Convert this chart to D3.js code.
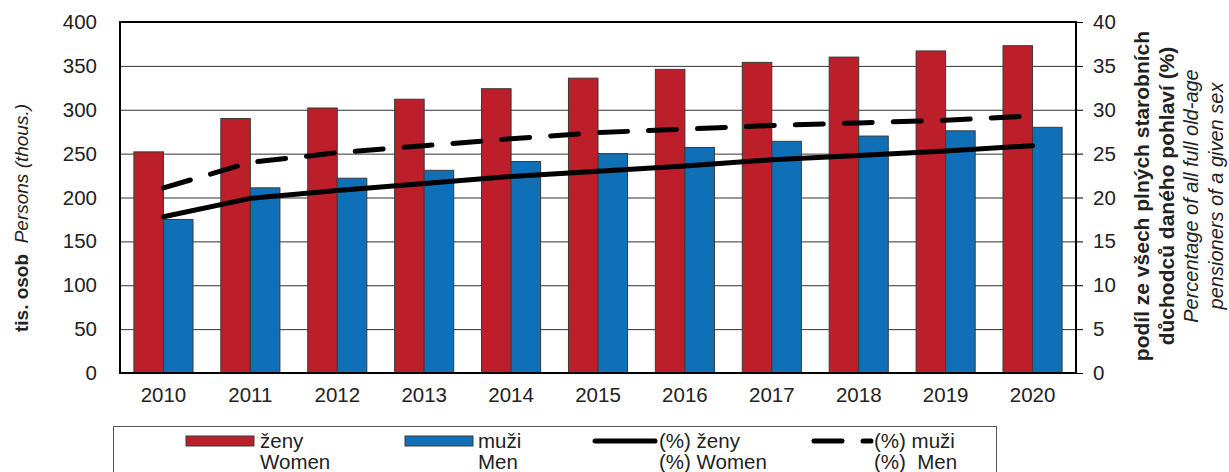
<!DOCTYPE html>
<html><head><meta charset="utf-8">
<script src="https://cdn.jsdelivr.net/npm/d3@7"></script>
<style>
body{margin:0;background:#fff;}
svg{display:block;font-family:"Liberation Sans",Arial,sans-serif;}
</style></head>
<body><svg id="c" width="1229" height="472"></svg>
<script>
const years = ["2010","2011","2012","2013","2014","2015","2016","2017","2018","2019","2020"];
const women = [252, 290, 302, 312, 324, 336, 346, 354, 360, 367, 373];
const men = [175, 211, 222, 231, 241, 250, 257, 264, 270, 276, 280];
const womenPct = [17.8, 19.9, 20.8, 21.6, 22.4, 23.0, 23.6, 24.3, 24.8, 25.3, 25.9];
const menPct = [21.1, 24.0, 25.1, 25.9, 26.7, 27.4, 27.8, 28.2, 28.5, 28.8, 29.3];
const leftTicks = [0,50,100,150,200,250,300,350,400];
const rightTicks = [0,5,10,15,20,25,30,35,40];

const svg = d3.select("#c");
const L=120, R=1076, T=22, B=373;
const RED="#BC1F29", BLUE="#0F70B7";
const FS = 20.5;

const x0 = d3.scaleBand().domain(years).range([L,R]).paddingInner(0.32).paddingOuter(0.16);
const x1 = d3.scaleBand().domain(["w","m"]).range([0,x0.bandwidth()]);
const y = d3.scaleLinear().domain([0,400]).range([B,T]);
const y2 = d3.scaleLinear().domain([0,40]).range([B,T]);

// gridlines
svg.append("g").attr("transform",`translate(${L},0)`)
  .call(d3.axisLeft(y).tickValues(leftTicks).tickSize(-(R-L)).tickFormat(""))
  .call(g=>g.select(".domain").remove())
  .call(g=>g.selectAll("line").attr("stroke","#333").attr("stroke-width",1));

// bars
const grp = svg.append("g").selectAll("g").data(years).join("g")
  .attr("transform",d=>`translate(${x0(d)},0)`);
grp.append("rect").attr("x",x1("w")).attr("width",x1.bandwidth())
  .attr("y",(d,i)=>y(women[i])).attr("height",(d,i)=>y(0)-y(women[i]))
  .attr("fill",RED).attr("stroke","#3a3a3a").attr("stroke-width",1);
grp.append("rect").attr("x",x1("m")).attr("width",x1.bandwidth())
  .attr("y",(d,i)=>y(men[i])).attr("height",(d,i)=>y(0)-y(men[i]))
  .attr("fill",BLUE).attr("stroke","#3a3a3a").attr("stroke-width",1);

// lines
const cx = d=>x0(d)+x0.bandwidth()/2;
const lineW = d3.line().x((d,i)=>cx(years[i])).y(d=>y2(d));
svg.append("path").attr("d",lineW(womenPct)).attr("fill","none")
  .attr("stroke","#000").attr("stroke-width",5).attr("stroke-linecap","round").attr("stroke-linejoin","round");
svg.append("path").attr("d",lineW(menPct)).attr("fill","none")
  .attr("stroke","#000").attr("stroke-width",5).attr("stroke-linecap","round")
  .attr("stroke-dasharray","28,21");

// frame
svg.append("rect").attr("x",L).attr("y",T).attr("width",R-L).attr("height",B-T)
  .attr("fill","none").attr("stroke","#000").attr("stroke-width",2);

// left axis
const la = svg.append("g").attr("transform",`translate(${L},0)`)
  .call(d3.axisLeft(y).tickValues(leftTicks).tickSize(0).tickPadding(23));
la.select(".domain").remove();
la.selectAll("text").attr("font-size",FS).attr("fill","#222").attr("font-family","Liberation Sans, Arial, sans-serif");

// right axis
const ra = svg.append("g").attr("transform",`translate(${R},0)`)
  .call(d3.axisRight(y2).tickValues(rightTicks).tickSize(7).tickPadding(10));
ra.select(".domain").remove();
ra.selectAll("line").attr("stroke","#000");
ra.selectAll("text").attr("font-size",FS).attr("fill","#222").attr("font-family","Liberation Sans, Arial, sans-serif");

// bottom axis
const ba = svg.append("g").attr("transform",`translate(0,${B})`)
  .call(d3.axisBottom(x0).tickSize(0).tickPadding(14));
ba.select(".domain").remove();
ba.selectAll("text").attr("font-size",FS).attr("fill","#222").attr("font-family","Liberation Sans, Arial, sans-serif");

// left title
const lt = svg.append("text").attr("transform","translate(28,218) rotate(-90)")
  .attr("text-anchor","middle").attr("font-size",19).attr("fill","#222");
lt.append("tspan").attr("font-weight","bold").text("tis. osob");
lt.append("tspan").attr("font-style","italic").text("\u00a0 Persons (thous.)");

// right title
const rtLines = [
  ["podíl ze všech plných starobních","bold","",21],
  ["důchodců daného pohlaví (%)","bold","",21],
  ["Percentage of all full old-age","normal","italic",20],
  ["pensioners of a given sex","normal","italic",20]
];
const rt = svg.append("g").attr("transform","translate(1149,196) rotate(-90)");
rtLines.forEach((l,i)=>{
  rt.append("text").attr("x",0).attr("y",i*24.5).attr("text-anchor","middle")
    .attr("font-size",l[3]).attr("font-weight",l[1]).attr("font-style",l[2]||null)
    .attr("fill","#222").text(l[0]);
});

// legend
svg.append("rect").attr("x",113.5).attr("y",426.5).attr("width",883).attr("height",60)
  .attr("fill","none").attr("stroke","#555").attr("stroke-width",1);
const leg = [
  {type:"bar",color:RED,x1:186,x2:254,tx:260,l1:"ženy",l2:"Women"},
  {type:"bar",color:BLUE,x1:405,x2:473,tx:478,l1:"muži",l2:"Men"},
  {type:"line",dash:null,x1:595,x2:655,tx:659,l1:"(%) ženy",l2:"(%) Women"},
  {type:"line",dash:"28,21",x1:814,x2:871,tx:874,l1:"(%) muži",l2:"(%)\u00a0 Men"}
];
leg.forEach(d=>{
  if(d.type==="bar"){
    svg.append("rect").attr("x",d.x1).attr("y",436).attr("width",d.x2-d.x1).attr("height",10)
      .attr("fill",d.color).attr("stroke","#3a3a3a").attr("stroke-width",1);
  } else {
    svg.append("line").attr("x1",d.x1).attr("x2",d.x2).attr("y1",441).attr("y2",441)
      .attr("stroke","#000").attr("stroke-width",5).attr("stroke-linecap","round")
      .attr("stroke-dasharray",d.dash);
  }
  svg.append("text").attr("x",d.tx).attr("y",448).attr("font-size",FS).attr("fill","#222").text(d.l1);
  svg.append("text").attr("x",d.tx).attr("y",469).attr("font-size",FS).attr("fill","#222").text(d.l2);
});
</script></body></html>
